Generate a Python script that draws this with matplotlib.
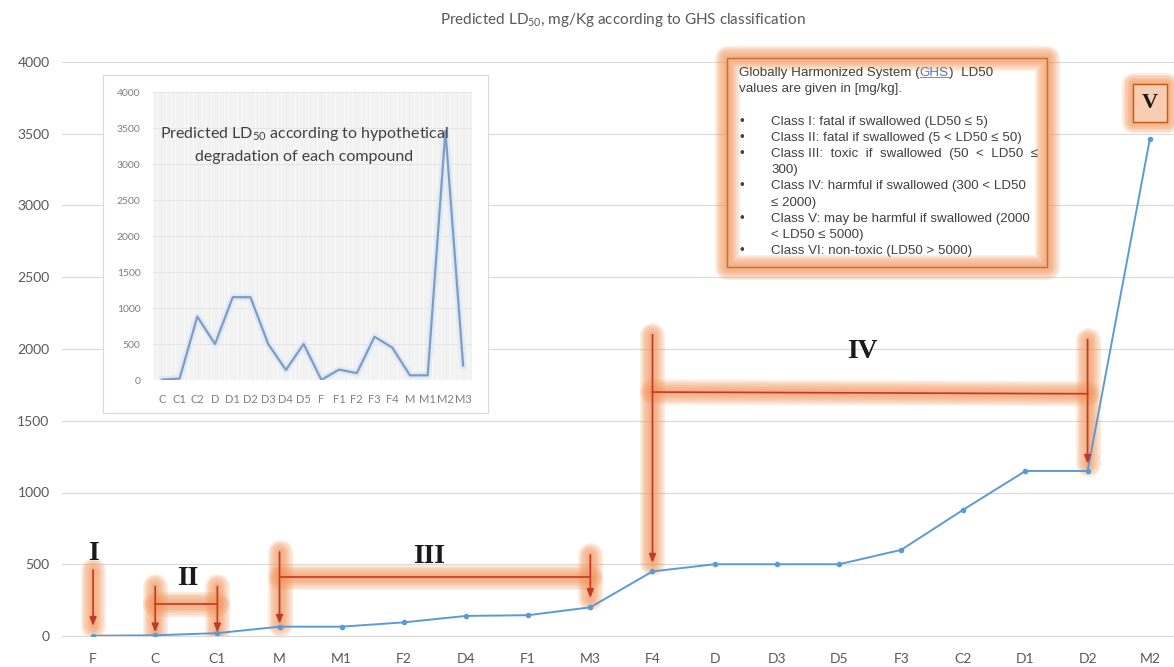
import numpy as np
import matplotlib
matplotlib.use("Agg")
import matplotlib.pyplot as plt
import matplotlib.patheffects as pe
from matplotlib.patches import Rectangle
from matplotlib.lines import Line2D
from matplotlib.transforms import IdentityTransform
from matplotlib.ticker import MultipleLocator

plt.rcParams["font.family"] = ["Lato", "DejaVu Sans"]
plt.rcParams["mathtext.default"] = "regular"

# Predicted LD50 (mg/Kg) per compound, alphabetical order (inset chart)
compounds = ["C", "C1", "C2", "D", "D1", "D2", "D3", "D4", "D5",
             "F", "F1", "F2", "F3", "F4", "M", "M1", "M2", "M3"]
ld50 = [5, 20, 880, 500, 1150, 1150, 500, 140, 500,
        2, 145, 95, 600, 450, 65, 65, 3460, 200]

# main chart: compounds ranked by LD50
order = sorted(range(len(compounds)), key=lambda i: ld50[i])
ranked_names = [compounds[i] for i in order]
ranked_vals = [ld50[i] for i in order]

ghs_bullets = [
    ("\u2022", "Class I: fatal if swallowed (LD50 \u2264 5)"),
    ("\u2022", "Class II: fatal if swallowed (5 < LD50 \u2264 50)"),
    ("\u2022", "Class III:  toxic  if  swallowed  (50  <  LD50  \u2264"),
    ("", "300)"),
    ("\u2022", "Class IV: harmful if swallowed (300 < LD50"),
    ("", "\u2264 2000)"),
    ("\u2022", "Class V: may be harmful if swallowed (2000"),
    ("", "< LD50 \u2264 5000)"),
    ("\u2022", "Class VI: non-toxic (LD50 > 5000)"),
]

W, H = 1174, 667
fig = plt.figure(figsize=(W / 100, H / 100), dpi=100)


def fx(px):
    return px / W


def fy(py):
    return 1 - py / H


def soft_glow(width, color="#f3965a", n=7, alpha=0.18):
    # stack of translucent strokes -> soft orange glow
    return [pe.Stroke(linewidth=width * (n - k) / n, foreground=color, alpha=alpha,
                      capstyle="round", joinstyle="round") for k in range(n)]


GREY = "#595959"
RED = "#c0392b"

# ---- main chart
ax = fig.add_axes([fx(62), fy(636), 1 - fx(62), (636 - 62) / H])
x = np.arange(len(ranked_names))
ax.plot(x, ranked_vals, color="#5b9bd5", lw=1.4, marker="o", ms=3, zorder=3)
ax.set_xlim(-0.5, 17.39)
ax.set_ylim(0, 4000)
ax.set_yticks(range(0, 4001, 500))
ax.set_xticks(x)
ax.set_xticklabels(ranked_names)
ax.grid(axis="y", color="#d9d9d9", lw=0.8)
ax.set_axisbelow(True)
for s in ["top", "right", "left"]:
    ax.spines[s].set_visible(False)
ax.spines["bottom"].set_color("#d9d9d9")
ax.tick_params(length=0, colors=GREY, labelsize=10)
ax.tick_params(axis="x", pad=12)
ax.tick_params(axis="y", pad=9)

# GHS class brackets (x0, y0, x1, y1, arrow?)
segments = [
    (0, 460, 0, 70, True),
    (1, 345, 1, 25, True), (2, 345, 2, 25, True), (1, 226, 2, 226, False),
    (3, 585, 3, 85, True), (8, 565, 8, 265, True), (3, 412, 8, 412, False),
    (9, 2100, 9, 510, True), (16, 2066, 16, 1200, True), (9, 1700, 16, 1688, False),
]
for x0, y0, x1, y1, arrow in segments:
    ax.plot([x0, x1], [y0, y1], color="none", lw=1, zorder=2,
            path_effects=soft_glow(18))
for x0, y0, x1, y1, arrow in segments:
    if arrow:
        ax.annotate("", xy=(x1, y1), xytext=(x0, y0),
                    arrowprops=dict(arrowstyle="-|>,head_length=0.5,head_width=0.2",
                                    color=RED, lw=1.2, shrinkA=0, shrinkB=0),
                    zorder=4)
    else:
        ax.plot([x0, x1], [y0, y1], color=RED, lw=1.2, zorder=4)

roman = [("I", 0, 575), ("II", 1.52, 400), ("III", 5.4, 554), ("IV", 12.37, 1985)]
for lab, xi, yi in roman:
    ax.text(xi, yi, lab, ha="center", va="center", fontsize=20, fontweight="bold",
            family="Liberation Serif", color="#1a1a1a", zorder=5)

vt = ax.text(17, 3715, "V", ha="center", va="center", fontsize=16, fontweight="bold",
             family="Liberation Serif", color="#1a1a1a", zorder=5,
             bbox=dict(boxstyle="square,pad=0.4", fc="#f9cdb1", ec="#c55a11", lw=1))
vt.get_bbox_patch().set_path_effects(soft_glow(16) + [pe.Normal()])

fig.text(fx(623), fy(20), "Predicted LD$_{50}$, mg/Kg according to GHS classification",
         ha="center", va="center", fontsize=11, color=GREY)

# ---- inset chart
fig.add_artist(Rectangle((fx(103), fy(413)), fx(488) - fx(103), (413 - 75) / H,
                         transform=fig.transFigure, fc="white", ec="#d9d9d9",
                         lw=0.8, zorder=5))
ia = fig.add_axes([fx(153), fy(380), (472 - 153) / W, (380 - 92) / H])
ia.set_zorder(6)
ia.set_facecolor("#f2f2f2")
ia.plot(np.arange(len(compounds)), ld50, color="#7f9cc2", lw=1.6,
        path_effects=[pe.Stroke(linewidth=5, foreground="#dfeaf6"), pe.Normal()])
ia.set_xlim(-0.5, 17.5)
ia.set_ylim(0, 4000)
ia.set_yticks(range(0, 4001, 500))
ia.set_xticks(np.arange(len(compounds)))
ia.set_xticklabels(compounds)
ia.xaxis.set_minor_locator(MultipleLocator(0.25))
ia.grid(axis="x", which="minor", color="#fbfbfb", lw=0.6)
ia.grid(axis="y", which="major", color="#e2e2e2", lw=0.6)
ia.set_axisbelow(True)
for s in ia.spines.values():
    s.set_visible(False)
ia.tick_params(which="both", length=0, colors="#7f7f7f", labelsize=7.5)
ia.tick_params(axis="x", pad=10, labelsize=8)
ia.tick_params(axis="y", pad=9)
ia.text(0.475, 1 - (134 - 92) / 288, "Predicted LD$_{50}$ according to hypothetical",
        transform=ia.transAxes, ha="center", va="center", fontsize=11.5, color="#404040")
ia.text(0.475, 1 - (157 - 92) / 288, "degradation of each compound",
        transform=ia.transAxes, ha="center", va="center", fontsize=11.5, color="#404040")

# ---- GHS legend box
box = (fx(727), fy(267), fx(1047) - fx(727), (267 - 58) / H)
fig.add_artist(Rectangle(box[:2], box[2], box[3], transform=fig.transFigure,
                         fc="white", ec="none", zorder=5))
fig.add_artist(Rectangle(box[:2], box[2], box[3], transform=fig.transFigure,
                         fc="none", ec="#c5703a", lw=1, zorder=5.5,
                         path_effects=soft_glow(18) + [pe.Normal()]))
gfont = dict(family="Liberation Sans", fontsize=9.6, color="#404040", zorder=7)
step = 16.2
t1 = fig.text(fx(739), fy(73), "Globally Harmonized System (", va="center", **gfont)
t2 = fig.text(0, 0, "GHS", **{**gfont, "color": "#4a7ebb"})
t3 = fig.text(0, 0, ")  LD50", **gfont)
fig.text(fx(739), fy(73 + step), "values are given in [mg/kg].", va="center", **gfont)
for i, (bul, line) in enumerate(ghs_bullets):
    yy = fy(73 + (i + 3) * step)
    if bul:
        fig.text(fx(739), yy, bul, va="center", **gfont)
    fig.text(fx(771), yy, line, va="center", **gfont)

# chain the first line pieces and underline the link
fig.canvas.draw()
r = fig.canvas.get_renderer()
b1 = t1.get_window_extent(r)
t2.set_transform(IdentityTransform())
t2.set_position((b1.x1, b1.y0))
t2.set_va("bottom")
fig.canvas.draw()
b2 = t2.get_window_extent(r)
t3.set_transform(IdentityTransform())
t3.set_position((b2.x1, b2.y0))
t3.set_va("bottom")
fig.add_artist(Line2D([b2.x0, b2.x1], [b2.y0 + 2, b2.y0 + 2], transform=IdentityTransform(),
                      color="#4a7ebb", lw=0.6, zorder=7))

fig.savefig("out.png", dpi=100)
